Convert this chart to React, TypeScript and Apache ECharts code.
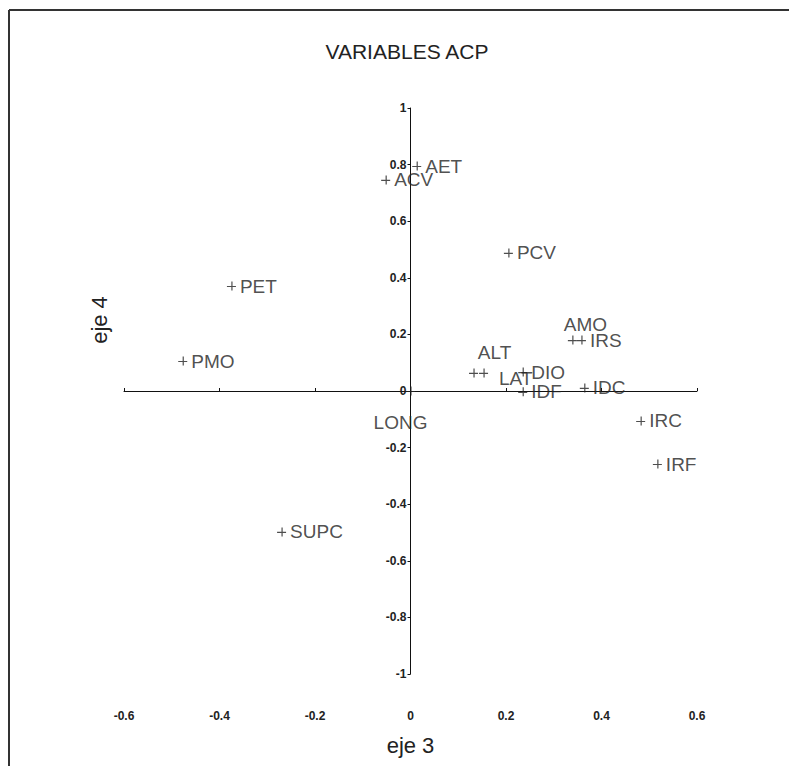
import React, { useEffect, useRef } from "react";
import * as echarts from "echarts";

const names = ["AET", "ACV", "PCV", "PET", "PMO", "AMO", "IRS", "ALT", "LAT", "DIO", "IDF", "IDC", "IRC", "IRF", "SUPC", "LONG"];
const eje3 = [0.013, -0.052, 0.205, -0.375, -0.477, 0.339, 0.358, 0.132, 0.153, 0.235, 0.235, 0.364, 0.482, 0.517, -0.27, 0.0];
const eje4 = [0.795, 0.746, 0.488, 0.371, 0.106, 0.18, 0.18, 0.064, 0.064, 0.067, -0.003, 0.011, -0.106, -0.258, -0.498, 0.0];
const xTicks = [-0.6, 0.6, 0.2];
const yTicks = [-1, 1, 0.2];

const FONT = "'Liberation Sans', Arial, sans-serif";
const PLUS = "path://M0,4.4H9V5.6H0Z M4.4,0H5.6V9H4.4Z";

const labelPlacement: Record<string, any> = {
  AMO: { position: "top", offset: [13, 2] },
  ALT: { position: "top", offset: [21, -2] },
  LAT: { position: "right", offset: [7, 6] },
  LONG: { position: "bottom", offset: [-10, 13] },
};

export default function App() {
  const ref = useRef<HTMLDivElement>(null);
  useEffect(() => {
    document.body.style.margin = "0";
    const chart = echarts.init(ref.current!, null, { renderer: "svg" });
    const data = names.map((n, i) => {
      const p = labelPlacement[n];
      return {
        name: n,
        value: [eje3[i], eje4[i]],
        label: p ? { position: p.position, offset: p.offset } : undefined,
      };
    });
    chart.setOption({
      animation: false,
      backgroundColor: "#fff",
      title: {
        text: "VARIABLES ACP",
        left: 402,
        top: 36,
        textAlign: "center",
        textStyle: { fontFamily: FONT, fontSize: 21, fontWeight: "normal", color: "#222" },
      },
      grid: { left: 124, right: 92, top: 108, bottom: 92 },
      xAxis: [
        {
          type: "value",
          min: xTicks[0],
          max: xTicks[1],
          interval: xTicks[2],
          position: "bottom",
          axisLine: { show: false, onZero: false },
          axisTick: { show: false },
          splitLine: { show: false },
          axisLabel: { margin: 36, fontFamily: FONT, fontSize: 12, fontWeight: "bold", color: "#222" },
          name: "eje 3",
          nameLocation: "middle",
          nameGap: 60,
          nameTextStyle: { fontFamily: FONT, fontSize: 22, color: "#222" },
        },
        {
          type: "value",
          min: xTicks[0],
          max: xTicks[1],
          interval: xTicks[2],
          position: "top",
          axisLine: { show: true, onZero: true, lineStyle: { color: "#111", width: 1 } },
          axisTick: { show: true, length: 3, lineStyle: { color: "#111" } },
          axisLabel: { show: false },
          splitLine: { show: false },
        },
      ],
      yAxis: [
        {
          type: "value",
          min: yTicks[0],
          max: yTicks[1],
          interval: yTicks[2],
          position: "left",
          offset: -286.5,
          axisLine: { show: true, onZero: false, lineStyle: { color: "#111", width: 1 } },
          axisTick: { show: true, length: 3, lineStyle: { color: "#111" } },
          splitLine: { show: false },
          axisLabel: { margin: 4, fontFamily: FONT, fontSize: 12, fontWeight: "bold", color: "#222" },
        },
        {
          type: "value",
          min: yTicks[0],
          max: yTicks[1],
          interval: yTicks[2],
          position: "left",
          axisLine: { show: false, onZero: false },
          axisTick: { show: false },
          axisLabel: { show: false },
          splitLine: { show: false },
          name: "eje 4",
          nameLocation: "middle",
          nameGap: 14,
          nameTextStyle: { fontFamily: FONT, fontSize: 22, color: "#222", padding: [0, 0, 0, 142] },
        },
      ],
      series: [
        {
          type: "scatter",
          xAxisIndex: 0,
          yAxisIndex: 0,
          symbol: PLUS,
          symbolSize: 9,
          itemStyle: { color: "#222" },
          label: {
            show: true,
            position: "right",
            distance: 4,
            formatter: "{b}",
            fontFamily: FONT,
            fontSize: 19,
            color: "#222",
          },
          data,
        },
      ],
      graphic: [
        { type: "line", shape: { x1: 9, y1: 10, x2: 9, y2: 766 }, style: { stroke: "#333", lineWidth: 2 } },
        { type: "line", shape: { x1: 9, y1: 10, x2: 789, y2: 10 }, style: { stroke: "#333", lineWidth: 2 } },
      ],
    });
    return () => chart.dispose();
  }, []);
  return <div ref={ref} style={{ width: 789, height: 766 }} />;
}
